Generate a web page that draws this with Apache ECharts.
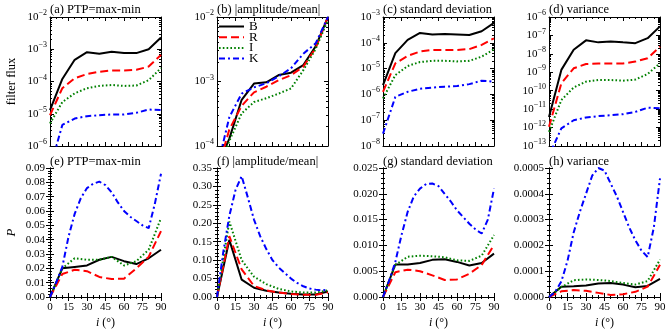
<!DOCTYPE html>
<html>
<head>
<meta charset="utf-8">
<script src="https://cdn.jsdelivr.net/npm/echarts@6/dist/echarts.min.js"></script>
<style>
html, body { margin: 0; padding: 0; background: #fff; }
#chart { width: 671px; height: 332px; }
</style>
</head>
<body>
<div id="chart"></div>
<script>
// inclination angles (deg)
var iAngles = [0, 10, 20, 30, 40, 50, 60, 70, 80, 90];
var iAnglesFine = [0, 5, 10, 15, 20, 25, 30, 35, 40, 45, 50, 55, 60, 65, 70, 75, 80, 85, 90];

// top row: filter flux (log)
var ptpB = [1.3e-5, 1.2e-4, 4.7e-4, 8.1e-4, 7.2e-4, 8.3e-4, 7.6e-4, 7.6e-4, 1.0e-3, 2.3e-3];
var ptpR = [9e-6, 6.2e-5, 1.26e-4, 1.7e-4, 2.0e-4, 2.2e-4, 2.2e-4, 2.3e-4, 2.9e-4, 6.7e-4];
var ptpI = [5e-6, 2.3e-5, 4.3e-5, 6.2e-5, 7.3e-5, 7.8e-5, 7.3e-5, 7.5e-5, 1.1e-4, 2.6e-4];
var ptpK = [2e-7, 4.5e-6, 7.1e-6, 8.4e-6, 9e-6, 9.5e-6, 9.5e-6, 1.07e-5, 1.35e-5, 1.3e-5];

var ampB = [4.7e-5, 1.3e-4, 5.2e-4, 9.3e-4, 9.7e-4, 1.26e-3, 1.37e-3, 1.8e-3, 3.5e-3, 1.0e-2];
var ampR = [4e-5, 1.8e-4, 4.2e-4, 6.8e-4, 8.3e-4, 1.05e-3, 1.25e-3, 1.7e-3, 3.3e-3, 1.0e-2];
var ampI = [3e-5, 1.2e-4, 3.2e-4, 4.8e-4, 5.5e-4, 6.5e-4, 7.8e-4, 1.5e-3, 3.2e-3, 9e-3];
var ampK = [4.5e-5, 2.8e-4, 6.5e-4, 8.1e-4, 9.4e-4, 1.2e-3, 1.6e-3, 2.7e-3, 3.9e-3, 1.0e-2];

var stdB = [2.3e-6, 4e-5, 1.3e-4, 2.4e-4, 2.1e-4, 2.2e-4, 2.1e-4, 2.0e-4, 2.8e-4, 5.9e-4];
var stdR = [1.26e-6, 1.6e-5, 3.1e-5, 4.6e-5, 5.3e-5, 5.3e-5, 5.3e-5, 5.7e-5, 8.3e-5, 1.5e-4];
var stdI = [7e-7, 5.6e-6, 1.26e-5, 1.8e-5, 2e-5, 2e-5, 1.9e-5, 2e-5, 2.9e-5, 5.6e-5];
var stdK = [3e-8, 8e-7, 1.26e-6, 1.65e-6, 1.85e-6, 2e-6, 2.1e-6, 2.5e-6, 3.4e-6, 3.1e-6];

var varB = [3.8e-12, 1.35e-9, 1.66e-8, 5.4e-8, 4.2e-8, 4.7e-8, 4.2e-8, 3.8e-8, 7.1e-8, 3.1e-7];
var varR = [1.1e-12, 2.5e-10, 1.65e-9, 2.8e-9, 3e-9, 3e-9, 3e-9, 3.8e-9, 5.8e-9, 2.5e-8];
var varI = [5.8e-13, 3.1e-11, 1.5e-10, 3.1e-10, 3.8e-10, 3.8e-10, 3.5e-10, 4e-10, 8.1e-10, 3.1e-9];
var varK = [3e-14, 9e-13, 2.5e-12, 3.5e-12, 4.2e-12, 4.7e-12, 5.3e-12, 7.1e-12, 1.2e-11, 1.1e-11];

// bottom row: P (linear)
var pPtpB = [0, 0.020, 0.021, 0.022, 0.026, 0.028, 0.025, 0.023, 0.027, 0.033];
var pPtpR = [0, 0.016, 0.019, 0.018, 0.014, 0.0125, 0.0128, 0.020, 0.028, 0.046];
var pPtpI = [0, 0.020, 0.027, 0.026, 0.026, 0.028, 0.022, 0.025, 0.033, 0.055];
var pPtpK = [0, 0.010, 0.021, 0.042, 0.058, 0.069, 0.076, 0.079, 0.0805, 0.078, 0.073, 0.066, 0.060, 0.056, 0.053, 0.050, 0.048, 0.065, 0.086];

var pAmpB = [0, 0.155, 0.047, 0.025, 0.017, 0.012, 0.009, 0.007, 0.007, 0.015];
var pAmpR = [0, 0.165, 0.075, 0.030, 0.018, 0.012, 0.008, 0.006, 0.006, 0.012];
var pAmpI = [0, 0.205, 0.10, 0.055, 0.035, 0.022, 0.015, 0.012, 0.012, 0.018];
var pAmpK = [0, 0.12, 0.22, 0.29, 0.328, 0.27, 0.21, 0.165, 0.13, 0.10, 0.08, 0.065, 0.05, 0.038, 0.029, 0.023, 0.02, 0.018, 0.02];

var pStdB = [0, 0.0063, 0.0063, 0.0066, 0.0072, 0.0073, 0.0068, 0.0061, 0.0066, 0.0084];
var pStdR = [0, 0.0048, 0.0053, 0.0050, 0.0042, 0.0033, 0.0034, 0.0045, 0.0062, 0.0101];
var pStdI = [0, 0.0062, 0.0078, 0.0080, 0.0079, 0.0077, 0.0071, 0.0070, 0.0080, 0.0120];
var pStdK = [0, 0.0032, 0.0068, 0.012, 0.0165, 0.0195, 0.021, 0.0219, 0.022, 0.0215, 0.020, 0.0185, 0.0168, 0.0155, 0.0142, 0.0131, 0.0123, 0.015, 0.021];

var pVarB = [0, 0.000040, 0.000042, 0.000045, 0.000052, 0.000054, 0.000048, 0.000038, 0.000043, 0.000070];
var pVarR = [0, 0.000022, 0.000027, 0.000024, 0.000016, 0.000008, 0.000011, 0.000020, 0.000040, 0.000125];
var pVarI = [0, 0.000038, 0.000065, 0.000068, 0.000066, 0.000062, 0.000054, 0.000048, 0.000062, 0.000145];
var pVarK = [0, 0.00002, 0.00006, 0.00014, 0.00025, 0.00033, 0.00040, 0.00047, 0.00050, 0.00049, 0.00044, 0.00039, 0.00033, 0.00027, 0.00022, 0.00018, 0.000155, 0.00027, 0.00046];

var bandNames = ['B', 'R', 'I', 'K'];
var bandColors = ['#000000', '#ff0000', '#008000', '#0000ff'];
var bandDash = ['solid', [8, 4], [1.6, 2.2], [6, 3, 2, 3]];

// panel settings
var panels = [
  { title: '(a) PTP=max-min', log: true, lo: -6, hi: -2, data: [ptpB, ptpR, ptpI, ptpK], fineK: false },
  { title: '(b) |amplitude/mean|', log: true, lo: -4, hi: -2, data: [ampB, ampR, ampI, ampK], fineK: false },
  { title: '(c) standard deviation', log: true, lo: -8, hi: -3, data: [stdB, stdR, stdI, stdK], fineK: false },
  { title: '(d) variance', log: true, lo: -13, hi: -6, data: [varB, varR, varI, varK], fineK: false },
  { title: '(e) PTP=max-min', log: false, max: 0.09, step: 0.01, digits: 2, data: [pPtpB, pPtpR, pPtpI, pPtpK], fineK: true },
  { title: '(f) |amplitude/mean|', log: false, max: 0.35, step: 0.05, digits: 2, data: [pAmpB, pAmpR, pAmpI, pAmpK], fineK: true },
  { title: '(g) standard deviation', log: false, max: 0.025, step: 0.005, digits: 3, data: [pStdB, pStdR, pStdI, pStdK], fineK: true },
  { title: '(h) variance', log: false, max: 0.0005, step: 0.0001, digits: 4, data: [pVarB, pVarR, pVarI, pVarK], fineK: true }
];

var fontFamily = '"Liberation Serif", "DejaVu Serif", serif';
var gridLeft = [50, 217, 383, 549];
var gridTop = [17, 168];
var gridW = 111, gridH = 129;

var blackLine = { show: true, lineStyle: { color: '#000', width: 1 } };
var majorTick = { show: true, inside: true, length: 4, lineStyle: { color: '#000', width: 1 } };

function xAxisDef(g, pos, withLabels) {
  var ax = {
    gridIndex: g, type: 'value', position: pos, min: 0, max: 90, interval: 15,
    axisLine: blackLine, axisTick: majorTick,
    minorTick: { show: true, splitNumber: 3, length: 2, lineStyle: { color: '#000', width: 1 } },
    splitLine: { show: false },
    axisLabel: { show: withLabels, margin: 5, color: '#000', fontSize: 11, fontFamily: fontFamily }
  };
  if (withLabels) {
    ax.name = '{it|i} (°)';
    ax.nameLocation = 'middle';
    ax.nameGap = 20;
    ax.nameTextStyle = { color: '#000', fontSize: 12, fontFamily: fontFamily,
      rich: { it: { fontStyle: 'italic', fontSize: 12, fontFamily: fontFamily, color: '#000' } } };
  }
  return ax;
}

// superscript label 10^n
function powLabel(v) {
  var n = Math.round(v);
  return '{b|10}{s|' + (n < 0 ? '\u2212' + (-n) : n) + '}';
}

var option = {
  animation: false,
  backgroundColor: '#fff',
  grid: [], xAxis: [], yAxis: [], series: [], title: [],
  legend: {
    data: bandNames, orient: 'vertical', left: 218, top: 20, padding: 0,
    itemWidth: 25, itemHeight: 10, itemGap: -2.3, selectedMode: false,
    itemStyle: { color: 'transparent', borderColor: 'transparent', borderWidth: 0, opacity: 0 },
    textStyle: { color: '#000', fontSize: 13, fontFamily: fontFamily }
  }
};

panels.forEach(function(p, g) {
  var row = g < 4 ? 0 : 1, col = g % 4;
  option.grid.push({ left: gridLeft[col], top: gridTop[row], width: gridW, height: gridH });
  option.title.push({
    text: p.title, left: gridLeft[col], top: row ? 155 : 3, padding: 0,
    textStyle: { color: '#000', fontSize: 12.5, fontWeight: 'normal', fontFamily: fontFamily }
  });

  var xIndex = option.xAxis.length;
  option.xAxis.push(xAxisDef(g, 'bottom', row === 1));
  option.xAxis.push(xAxisDef(g, 'top', false));

  var yIndex = option.yAxis.length;
  if (p.log) {
    // axis the data is drawn on
    option.yAxis.push({ gridIndex: g, type: 'log', logBase: 10, min: Math.pow(10, p.lo), max: Math.pow(10, p.hi), show: false });
    var minors = [];
    for (var n = p.lo; n < p.hi; n++) {
      for (var k = 2; k <= 9; k++) minors.push(n + Math.log10(k));
    }
    ['left', 'right'].forEach(function(pos) {
      var major = {
        gridIndex: g, type: 'value', position: pos, min: p.lo, max: p.hi, interval: 1,
        axisLine: blackLine, axisTick: majorTick, splitLine: { show: false },
        axisLabel: {
          show: pos === 'left', margin: 3, formatter: powLabel,
          rich: {
            b: { color: '#000', fontSize: 11, fontFamily: fontFamily, lineHeight: 16 },
            s: { color: '#000', fontSize: 8, fontFamily: fontFamily, verticalAlign: 'top' }
          }
        }
      };
      if (g === 0 && pos === 'left') {
        major.name = 'filter flux';
        major.nameLocation = 'middle';
        major.nameGap = 32;
        major.nameTextStyle = { color: '#000', fontSize: 12.5, fontFamily: fontFamily };
      }
      option.yAxis.push(major);
      option.yAxis.push({
        gridIndex: g, type: 'value', position: pos, min: p.lo, max: p.hi,
        axisLine: { show: false }, splitLine: { show: false }, axisLabel: { show: false },
        axisTick: { show: true, inside: true, length: 2, customValues: minors, lineStyle: { color: '#000', width: 1 } }
      });
    });
  } else {
    ['left', 'right'].forEach(function(pos) {
      var ax = {
        gridIndex: g, type: 'value', position: pos, min: 0, max: p.max, interval: p.step,
        axisLine: blackLine, axisTick: majorTick, splitLine: { show: false },
        minorTick: { show: true, splitNumber: 5, length: 2, lineStyle: { color: '#000', width: 1 } },
        axisLabel: {
          show: pos === 'left', margin: 5, color: '#000', fontSize: 11, fontFamily: fontFamily,
          formatter: function(v) { return v.toFixed(p.digits); }
        }
      };
      if (g === 4 && pos === 'left') {
        ax.name = 'P';
        ax.nameLocation = 'middle';
        ax.nameGap = 32;
        ax.nameTextStyle = { color: '#000', fontSize: 13, fontStyle: 'italic', fontFamily: fontFamily };
      }
      option.yAxis.push(ax);
    });
  }

  p.data.forEach(function(vals, b) {
    var angles = (b === 3 && p.fineK) ? iAnglesFine : iAngles;
    option.series.push({
      name: bandNames[b], type: 'line', xAxisIndex: xIndex, yAxisIndex: yIndex,
      symbol: 'none', clip: true,
      lineStyle: { color: bandColors[b], width: 2, type: bandDash[b], cap: 'butt' },
      itemStyle: { color: bandColors[b] },
      data: angles.map(function(a, i) { return [a, vals[i]]; })
    });
  });
});

var chart = echarts.init(document.getElementById('chart'));
chart.setOption(option);
</script>
</body>
</html>
